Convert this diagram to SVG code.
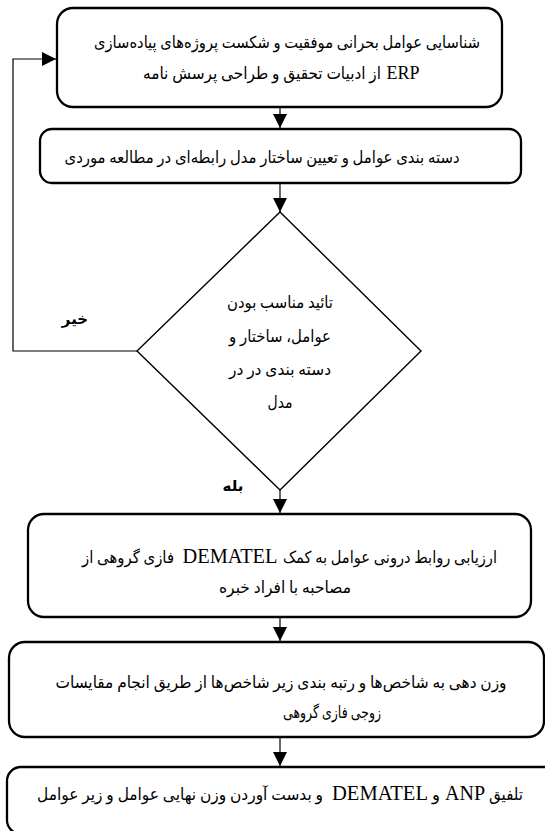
<svg xmlns="http://www.w3.org/2000/svg" width="545" height="831" viewBox="0 0 545 831">
<style>
.box{fill:#fff;stroke:#000;stroke-width:2.3}
.dia{fill:#fff;stroke:#000;stroke-width:1.4}
.con{fill:none;stroke:#000;stroke-width:1.2}
.t{font-family:"Liberation Serif","DejaVu Sans",serif;font-size:16.5px;fill:#000;direction:rtl;text-anchor:middle}
.l{font-family:"Liberation Serif",serif;font-size:18px;fill:#000;direction:ltr;text-anchor:middle}
.l2{font-family:"Liberation Serif",serif;font-size:20px;fill:#000;direction:ltr;text-anchor:middle}
.b{font-family:"DejaVu Sans","Liberation Sans",sans-serif;font-size:15px;font-weight:bold;fill:#000;direction:rtl;text-anchor:middle}
</style>
<defs>
<marker id="ah" markerUnits="userSpaceOnUse" markerWidth="14" markerHeight="16" viewBox="0 0 14 16" refX="14" refY="8" orient="auto">
<path d="M0,1 L14,8 L0,15 Z" fill="#000"/>
</marker>
</defs>
<rect width="545" height="831" fill="#fff"/>
<g id="connectors">
<line class="con" x1="280" y1="107" x2="280" y2="128" marker-end="url(#ah)"/>
<line class="con" x1="280" y1="183" x2="280" y2="212" marker-end="url(#ah)"/>
<polyline class="con" points="137,351 13,351 13,59 56,59" marker-end="url(#ah)"/>
<line class="con" x1="280" y1="490" x2="280" y2="513" marker-end="url(#ah)"/>
<line class="con" x1="280" y1="617" x2="280" y2="641" marker-end="url(#ah)"/>
<line class="con" x1="280" y1="737" x2="280" y2="766" marker-end="url(#ah)"/>
</g>
<g id="n1">
<rect class="box" x="57" y="8" width="445" height="99" rx="16"/>
<text class="t" x="287" y="48" textLength="386" lengthAdjust="spacingAndGlyphs">شناسایی عوامل بحرانی موفقیت و شکست پروژه‌های پیاده‌سازی</text>
<text class="l" x="403" y="79" textLength="33" lengthAdjust="spacingAndGlyphs">ERP</text>
<text class="t" x="262" y="79" textLength="238" lengthAdjust="spacingAndGlyphs">از ادبیات تحقیق و طراحی پرسش نامه</text>
</g>
<g id="n2">
<rect class="box" x="40" y="129" width="481" height="54" rx="12"/>
<text class="t" x="262" y="163" textLength="395" lengthAdjust="spacingAndGlyphs">دسته بندی عوامل و تعیین ساختار مدل رابطه‌ای در مطالعه موردی</text>
</g>
<g id="n3">
<polygon class="dia" points="280,212 421,351 280,490 137,351"/>
<text class="t" x="280" y="308" textLength="106" lengthAdjust="spacingAndGlyphs">تائید مناسب بودن</text>
<text class="t" x="280" y="342" textLength="102" lengthAdjust="spacingAndGlyphs">عوامل، ساختار و</text>
<text class="t" x="280" y="375" textLength="102" lengthAdjust="spacingAndGlyphs">دسته بندی در در</text>
<text class="t" x="280" y="408" textLength="25" lengthAdjust="spacingAndGlyphs">مدل</text>
</g>
<g id="l-no"><text class="b" x="75" y="324">خیر</text></g>
<g id="l-yes"><text class="b" x="233" y="491">بله</text></g>
<g id="n4">
<rect class="box" x="28" y="514" width="503" height="103" rx="16"/>
<text class="t" x="390" y="563" textLength="214" lengthAdjust="spacingAndGlyphs">ارزیابی روابط درونی عوامل به کمک</text>
<text class="l2" x="230" y="563" textLength="95" lengthAdjust="spacingAndGlyphs">DEMATEL</text>
<text class="t" x="128" y="563" textLength="92" lengthAdjust="spacingAndGlyphs">فازی گروهی از</text>
<text class="t" x="285" y="593" textLength="132" lengthAdjust="spacingAndGlyphs">مصاحبه  با افراد خبره</text>
</g>
<g id="n5">
<rect class="box" x="9" y="642" width="535" height="95" rx="16"/>
<text class="t" x="281" y="688" textLength="451" lengthAdjust="spacingAndGlyphs">وزن دهی به شاخص‌ها و رتبه بندی زیر شاخص‌ها از طریق انجام مقایسات</text>
<text class="t" x="332" y="718" textLength="98" lengthAdjust="spacingAndGlyphs">زوجی فازی گروهی</text>
</g>
<g id="n6">
<rect class="box" x="7" y="767" width="560" height="67" rx="14"/>
<text class="t" x="506" y="800" textLength="34" lengthAdjust="spacingAndGlyphs">تلفیق</text>
<text class="l2" x="465" y="800" textLength="40" lengthAdjust="spacingAndGlyphs">ANP</text>
<text class="t" x="436" y="800" textLength="8" lengthAdjust="spacingAndGlyphs">و</text>
<text class="l2" x="380" y="800" textLength="96" lengthAdjust="spacingAndGlyphs">DEMATEL</text>
<text class="t" x="180" y="800" textLength="286" lengthAdjust="spacingAndGlyphs">و  بدست آوردن وزن نهایی عوامل و زیر عوامل</text>
</g>
</svg>
